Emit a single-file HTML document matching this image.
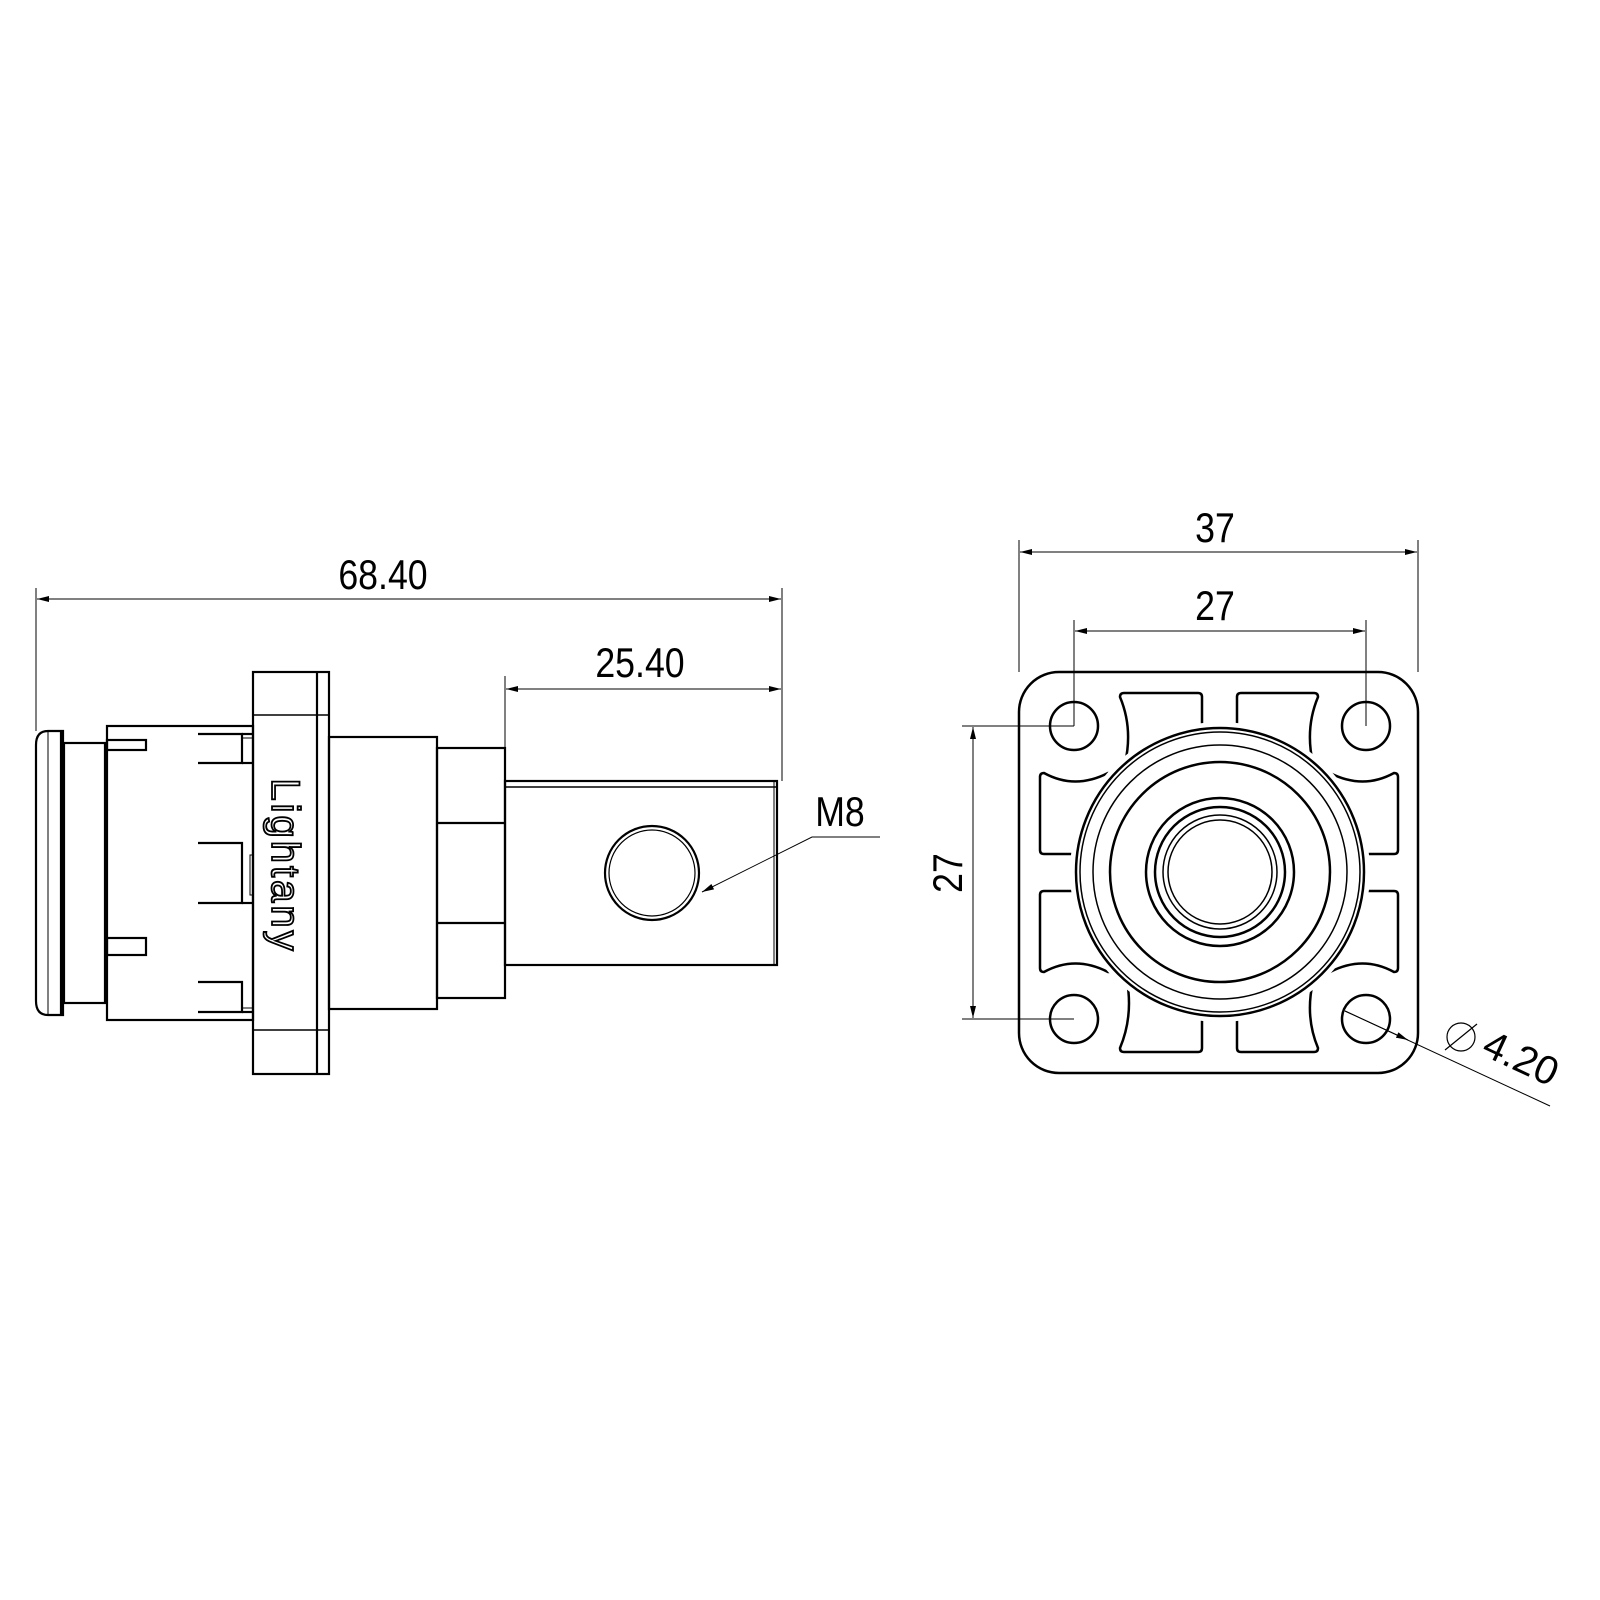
<!DOCTYPE html>
<html><head><meta charset="utf-8"><style>
html,body{margin:0;padding:0;background:#fff;}
svg{display:block;}
text{font-family:"Liberation Sans",sans-serif;fill:#000;}
</style></head><body>
<svg width="1600" height="1600" viewBox="0 0 1600 1600" xmlns="http://www.w3.org/2000/svg">
<defs>
<marker id="ar" viewBox="0 0 12 6" refX="12" refY="3" markerWidth="12" markerHeight="6" orient="auto-start-reverse" markerUnits="userSpaceOnUse">
<path d="M0,0 L12,3 L0,6 Z" fill="#000"/></marker>
</defs>
<g fill="none" stroke="#000">
<g stroke-width="1">
<line x1="36" y1="588" x2="36" y2="731"/>
<line x1="782" y1="588" x2="782" y2="781"/>
<line x1="505" y1="676" x2="505" y2="781"/>
<line x1="37" y1="599" x2="781" y2="599" marker-start="url(#ar)" marker-end="url(#ar)"/>
<line x1="506" y1="689" x2="781" y2="689" marker-start="url(#ar)" marker-end="url(#ar)"/>
<polyline points="880,837 812,837 702,892" marker-end="url(#ar)"/>
</g>
<g stroke-width="2.2">
<path d="M63,731 L48,731 Q36,731 36,745 L36,1001 Q36,1015 48,1015 L63,1015 Z"/>
<line x1="48" y1="731" x2="48" y2="1015" stroke-width="1"/>
<line x1="61" y1="731" x2="61" y2="1015"/>
<rect x="64" y="743" width="41" height="260"/>
<rect x="107" y="726" width="146" height="294"/>
<rect x="107" y="740" width="39" height="10"/>
<rect x="107" y="938" width="39" height="17"/>
<polyline points="198,734 242,734 242,763 198,763"/>
<line x1="242" y1="734" x2="253" y2="734"/><line x1="242" y1="763" x2="253" y2="763"/>
<line x1="242" y1="738" x2="253" y2="738" stroke-width="1"/>
<polyline points="198,843 242,843 242,903 198,903"/>
<line x1="242" y1="903" x2="253" y2="903"/>
<rect x="250" y="855" width="3" height="40" stroke-width="1"/>
<polyline points="198,982 242,982 242,1012 198,1012"/>
<line x1="242" y1="1012" x2="253" y2="1012"/><line x1="242" y1="1008" x2="253" y2="1008" stroke-width="1"/>
<rect x="253" y="672" width="76" height="402"/>
<line x1="317" y1="672" x2="317" y2="1074"/>
<line x1="253" y1="715" x2="329" y2="715" stroke-width="1.5"/>
<line x1="253" y1="1030" x2="329" y2="1030" stroke-width="1.5"/>
<rect x="329" y="737" width="108" height="272"/>
<rect x="437" y="748" width="68" height="250"/>
<line x1="437" y1="823" x2="505" y2="823"/><line x1="437" y1="923" x2="505" y2="923"/>
<rect x="505" y="781" width="272" height="184"/>
<line x1="505" y1="787" x2="777" y2="787" stroke-width="1.5"/>
<line x1="774" y1="781" x2="774" y2="965" stroke-width="1"/>
<circle cx="652" cy="873" r="47"/>
<circle cx="652" cy="873" r="43" stroke-width="1.2"/>
</g>
<g stroke-width="1">
<line x1="1019" y1="540" x2="1019" y2="672"/>
<line x1="1418" y1="540" x2="1418" y2="672"/>
<line x1="1074" y1="620" x2="1074" y2="726"/>
<line x1="1366" y1="620" x2="1366" y2="726"/>
<line x1="1020" y1="552" x2="1417" y2="552" marker-start="url(#ar)" marker-end="url(#ar)"/>
<line x1="1075" y1="631" x2="1365" y2="631" marker-start="url(#ar)" marker-end="url(#ar)"/>
<line x1="962" y1="726" x2="1074" y2="726"/>
<line x1="962" y1="1019" x2="1074" y2="1019"/>
<line x1="973" y1="727" x2="973" y2="1018" marker-start="url(#ar)" marker-end="url(#ar)"/>
<line x1="1345" y1="1011" x2="1550" y2="1106"/>
<line x1="1345" y1="1011" x2="1408" y2="1040" marker-end="url(#ar)"/>
</g>
<g stroke-width="2.5">
<rect x="1019" y="672" width="399" height="401" rx="40"/>
<circle cx="1074" cy="726" r="24"/><circle cx="1366" cy="726" r="24"/>
<circle cx="1074" cy="1019" r="24"/><circle cx="1366" cy="1019" r="24"/>
<path d="M1124,693 L1198,693 Q1202,693 1202,697 L1202,780 L1120,790 Q1114,760 1116,790 Q1138,740 1120,697 Q1120,693 1124,693 Z"/>
<path d="M1241,693 L1314,693 Q1318,693 1318,697 Q1300,740 1322,790 L1237,780 L1237,697 Q1237,693 1241,693 Z"/>
<path d="M1124,1052 L1198,1052 Q1202,1052 1202,1048 L1202,965 L1120,955 Q1138,1005 1120,1048 Q1120,1052 1124,1052 Z"/>
<path d="M1241,1052 L1314,1052 Q1318,1052 1318,1048 Q1300,1005 1322,955 L1237,965 L1237,1048 Q1237,1052 1241,1052 Z"/>
<path d="M1040,777 Q1040,773 1044,773 Q1075,790 1108,773 L1130,773 L1130,854 L1044,854 Q1040,854 1040,850 Z"/>
<path d="M1040,968 Q1040,972 1044,972 Q1075,955 1108,972 L1130,972 L1130,891 L1044,891 Q1040,891 1040,895 Z"/>
<path d="M1398,777 Q1398,773 1394,773 Q1363,790 1330,773 L1310,773 L1310,854 L1394,854 Q1398,854 1398,850 Z"/>
<path d="M1398,968 Q1398,972 1394,972 Q1363,955 1330,972 L1310,972 L1310,891 L1394,891 Q1398,891 1398,895 Z"/>
<circle cx="1220" cy="872" r="150" fill="#fff" stroke="none"/>
<circle cx="1220" cy="872" r="144"/>
<circle cx="1220" cy="872" r="140" stroke-width="1.5"/>
<circle cx="1220" cy="872" r="127" stroke-width="1.5"/>
<circle cx="1220" cy="872" r="110"/>
<circle cx="1220" cy="872" r="74"/>
<circle cx="1220" cy="872" r="65"/>
<circle cx="1220" cy="872" r="57" stroke-width="1.5"/>
<circle cx="1220" cy="872" r="52" stroke-width="1.5"/>
</g>
<g transform="translate(1461,1037)" stroke-width="1.2">
<circle cx="0" cy="0" r="14"/>
<line x1="-16" y1="13" x2="16" y2="-13"/>
</g>
</g>
<g font-size="42">
<text x="383" y="589" text-anchor="middle" transform="translate(383 0) scale(0.85 1) translate(-383 0)">68.40</text>
<text x="640" y="677" text-anchor="middle" transform="translate(640 0) scale(0.85 1) translate(-640 0)">25.40</text>
<text x="840" y="826" text-anchor="middle" transform="translate(840 0) scale(0.85 1) translate(-840 0)">M8</text>
<text x="1215" y="542" text-anchor="middle" transform="translate(1215 0) scale(0.85 1) translate(-1215 0)">37</text>
<text x="1215" y="620" text-anchor="middle" transform="translate(1215 0) scale(0.85 1) translate(-1215 0)">27</text>
<text transform="translate(962 873) rotate(-90) scale(0.85 1)" x="0" y="0" text-anchor="middle">27</text>
<text transform="translate(1480 1054) rotate(25)" x="0" y="0" font-size="40">4.20</text>
</g>
<text transform="translate(272 866) rotate(90)" x="0" y="0" text-anchor="middle" font-size="40" letter-spacing="3" style="fill:#fff;stroke:#000;stroke-width:1.8">Lightany</text>
</svg>
</body></html>
